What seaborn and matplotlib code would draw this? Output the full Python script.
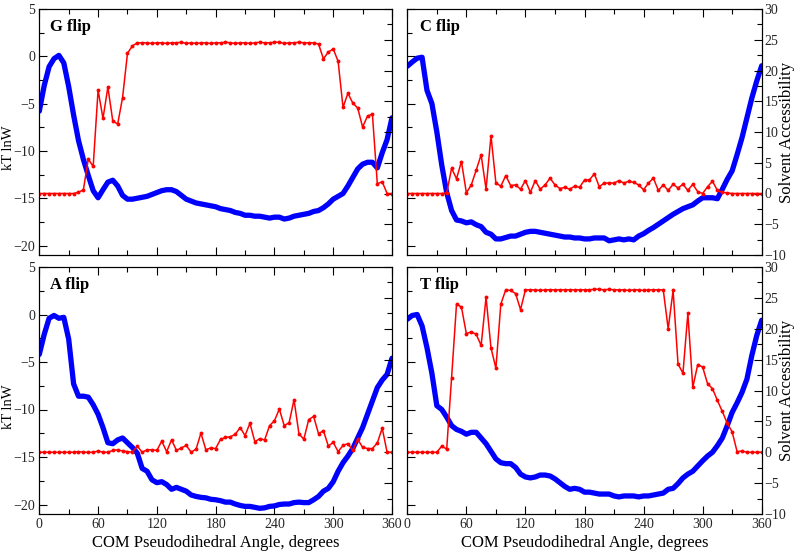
import matplotlib
matplotlib.use("Agg")
import matplotlib.pyplot as plt
import numpy as np
import pandas as pd
import seaborn as sns
from matplotlib.ticker import MultipleLocator

# ---------------- data ----------------
angles = list(range(0, 361, 5))

g_pmf = [-5.8, -3.1, -1.1, -0.25, 0.1, -0.7, -3.2, -6.2, -8.9, -10.9, -12.6, -14.2, -14.95,
         -14.1, -13.3, -13.1, -13.7, -14.7, -15.1, -15.1, -15.0, -14.9, -14.8, -14.6, -14.4,
         -14.2, -14.1, -14.1, -14.3, -14.7, -15.1, -15.3, -15.5, -15.6, -15.7, -15.8, -15.9,
         -16.1, -16.2, -16.3, -16.5, -16.6, -16.8, -16.8, -16.9, -16.9, -17.0, -17.1, -17.0,
         -17.0, -17.2, -17.1, -16.9, -16.8, -16.7, -16.6, -16.4, -16.3, -16.0, -15.6, -15.1,
         -14.8, -14.5, -13.7, -12.8, -11.9, -11.4, -11.2, -11.2, -11.8, -10.2, -8.8, -6.5]
g_sa = [0, 0, 0, 0, 0, 0, 0, 0, 0.2, 0.6, 5.6, 4.4, 16.8, 12.2, 17.3, 11.8, 11.3, 15.6, 22.8,
        24.0, 24.5, 24.5, 24.5, 24.4, 24.5, 24.5, 24.4, 24.5, 24.5, 24.6, 24.4, 24.5, 24.4,
        24.5, 24.5, 24.4, 24.5, 24.5, 24.6, 24.5, 24.4, 24.5, 24.5, 24.4, 24.5, 24.6, 24.5,
        24.5, 24.6, 24.6, 24.4, 24.5, 24.5, 24.6, 24.5, 24.5, 24.5, 24.3, 21.9, 23.0, 23.5,
        21.5, 14.0, 16.3, 14.7, 13.9, 10.8, 12.6, 12.9, 1.6, 1.9, 0, 0]

c_pmf = [-1.05, -0.6, -0.2, -0.1, -3.6, -5.0, -8.0, -11.5, -14.4, -16.3, -17.3, -17.4, -17.6,
         -17.5, -17.8, -18.0, -18.6, -18.8, -19.3, -19.3, -19.15, -19.0, -19.0, -18.8, -18.6,
         -18.5, -18.5, -18.6, -18.7, -18.8, -18.9, -19.0, -19.1, -19.1, -19.2, -19.2, -19.3,
         -19.3, -19.2, -19.2, -19.2, -19.5, -19.4, -19.3, -19.4, -19.3, -19.4, -19.0, -18.75,
         -18.4, -18.1, -17.75, -17.4, -17.05, -16.7, -16.4, -16.1, -15.9, -15.7, -15.3, -14.95,
         -14.95, -14.95, -15.05, -14.05, -13.0, -12.1, -10.4, -8.6, -6.5, -4.4, -2.6, -1.0]
c_sa = [0, 0, 0, 0, 0, 0, 0, 0, 0.1, 4.1, 2.4, 5.2, 0.1, 1.4, 3.8, 6.3, 0.7, 9.4, 1.7, 1.2,
        2.9, 1.3, 1.4, 0.7, 2.1, 0.2, 2.1, 0.7, 1.4, 2.5, 1.4, 0.8, 1.0, 0.7, 1.2, 1.0, 2.2,
        2.2, 3.2, 1.1, 1.7, 1.7, 1.7, 2.1, 1.7, 2.0, 1.8, 1.4, 0.6, 1.7, 2.5, 0.5, 1.4, 0.5,
        1.5, 0.9, 1.5, 0.5, 1.5, 0.3, 0.0, 1.1, 2.0, 0.5, 0.2, 0.1, 0, 0, 0, 0, 0, 0, 0]

a_pmf = [-4.2, -2.1, -0.4, -0.1, -0.4, -0.3, -2.6, -7.3, -8.6, -8.6, -8.7, -9.5, -10.5,
         -11.9, -13.5, -13.6, -13.2, -13.0, -13.5, -14.0, -14.6, -16.2, -16.5, -17.4, -17.7,
         -17.6, -17.9, -18.4, -18.2, -18.4, -18.6, -19.0, -19.15, -19.25, -19.3, -19.45, -19.5,
         -19.6, -19.75, -19.75, -19.95, -20.1, -20.2, -20.2, -20.3, -20.4, -20.35, -20.2,
         -20.15, -20.0, -19.95, -19.95, -19.8, -19.75, -19.8, -19.8, -19.5, -19.15, -18.6,
         -18.3, -17.6, -16.5, -15.6, -14.9, -14.1, -13.0, -11.9, -10.5, -9.1, -7.7, -6.9,
         -6.3, -4.6]
a_sa = [0, 0, 0, 0, 0, 0, 0, 0, 0.1, 0, 0, 0, 0.2, 0, 0, 0.3, 0.4, 0.2, 0.1, 0, 1.0, 0,
        0.4, 0.4, 0.3, 1.8, 0.1, 2.0, 0.3, 0.7, 1.1, 0, 0.5, 3.1, 0.4, 0.7, 0.6, 2.1, 2.4,
        2.5, 2.9, 4.0, 2.7, 4.7, 1.7, 2.2, 2.0, 4.3, 5.1, 7.0, 4.3, 4.8, 8.5, 3.0, 2.1, 5.3,
        5.8, 3.0, 3.5, 1.0, 1.6, 0.1, 1.1, 1.4, 0.3, 2.1, 0.8, 0.6, 0.6, 1.5, 3.9, 0, 0]

t_pmf = [-0.5, -0.1, 0.0, -1.2, -3.5, -6.2, -9.6, -10.0, -10.8, -11.7, -12.1, -12.3, -12.6,
         -12.4, -12.4, -13.0, -13.6, -14.4, -15.2, -15.6, -15.7, -15.7, -16.1, -16.8, -17.1,
         -17.2, -17.1, -16.9, -16.9, -17.0, -17.3, -17.7, -18.1, -18.4, -18.3, -18.4, -18.7,
         -18.7, -18.8, -18.9, -18.9, -18.9, -19.1, -19.2, -19.1, -19.1, -19.1, -19.2, -19.1,
         -19.1, -19.0, -18.9, -18.8, -18.4, -18.3, -17.8, -17.2, -16.8, -16.5, -15.95, -15.4,
         -14.9, -14.5, -13.8, -13.0, -11.7, -10.3, -9.3, -8.2, -6.8, -4.3, -2.2, -0.6]
t_sa = [0, 0, 0, 0, 0, 0, 0, 1.0, 0.5, 12.1, 24.0, 23.5, 19.2, 19.5, 19.1, 17.3, 25.1, 16.9,
        13.6, 24.0, 26.3, 26.2, 25.7, 23.1, 26.3, 26.3, 26.3, 26.2, 26.3, 26.3, 26.3, 26.3,
        26.3, 26.3, 26.3, 26.3, 26.3, 26.3, 26.4, 26.4, 26.3, 26.4, 26.3, 26.3, 26.3, 26.2,
        26.3, 26.3, 26.2, 26.3, 26.3, 26.3, 26.3, 20.0, 26.2, 14.3, 12.8, 22.5, 10.5, 14.2,
        13.8, 11.1, 10.3, 8.4, 6.6, 4.7, 3.3, 0.1, 0.2, 0, 0, 0, 0]

panel_titles = ["G flip", "C flip", "A flip", "T flip"]
pmf_series = [g_pmf, c_pmf, a_pmf, t_pmf]
sa_series = [g_sa, c_sa, a_sa, t_sa]

ylabel_left = "kT lnW"
ylabel_right = "Solvent Accessibility"
xlabel = "COM Pseudodihedral Angle, degrees"

# ---------------- style ----------------
sns.set_theme(style="ticks")
plt.rcParams["font.family"] = ["Liberation Serif", "DejaVu Serif"]

W, H = 800, 554
fig = plt.figure(figsize=(W / 100, H / 100), dpi=100)

# axes rectangles in pixels: (left, top, right, bottom)
rects_px = [(39.3, 9, 392, 255), (407.3, 9, 761.7, 255),
            (39.3, 267, 392, 514), (407.3, 267, 761.7, 514)]

BLUE = "#0000ff"
RED = "#ff0000"

for i, (title, pmf, sa) in enumerate(zip(panel_titles, pmf_series, sa_series)):
    l, t, r, b = rects_px[i]
    ax = fig.add_axes([l / W, 1 - b / H, (r - l) / W, (b - t) / H])
    ax2 = ax.twinx()
    df = pd.DataFrame({"angle": angles, "pmf": pmf, "sa": sa})

    sns.lineplot(data=df, x="angle", y="pmf", ax=ax, color=BLUE, linewidth=3.8,
                 solid_joinstyle="round", solid_capstyle="round", legend=False)
    sns.lineplot(data=df, x="angle", y="sa", ax=ax2, color=RED, linewidth=1.1,
                 marker="o", markersize=2.8, markeredgewidth=0, legend=False)

    ax.set_xlim(0, 360)
    ax.set_ylim(-21, 5)
    ax2.set_ylim(-10, 30)

    ax.xaxis.set_major_locator(MultipleLocator(60))
    ax.xaxis.set_minor_locator(MultipleLocator(30))
    ax.yaxis.set_major_locator(MultipleLocator(5))
    ax.yaxis.set_minor_locator(MultipleLocator(2.5))
    ax2.yaxis.set_major_locator(MultipleLocator(5))
    ax2.yaxis.set_minor_locator(MultipleLocator(2.5))

    left_col = i % 2 == 0
    bottom_row = i >= 2

    ax.tick_params(axis="x", which="both", direction="in", top=True, bottom=True,
                   labelbottom=bottom_row, labelsize=10, pad=3, color="black")
    ax.tick_params(axis="y", which="both", direction="in", left=True, right=False,
                   labelleft=left_col, labelsize=10, pad=3, color="black")
    ax2.tick_params(axis="y", which="both", direction="in", right=True,
                    labelright=not left_col, labelsize=10, pad=2, color="black")
    for a in (ax, ax2):
        a.tick_params(which="major", length=6, width=0.8)
        a.tick_params(which="minor", length=3.5, width=0.8)
        for sp in a.spines.values():
            sp.set_color("black")
            sp.set_linewidth(0.8)

    ax.set_xlabel("")
    ax.set_ylabel("")
    ax2.set_ylabel("")

    if left_col:
        ax.set_ylabel(ylabel_left, fontsize=10.5, color="black")
        ax.yaxis.set_label_coords(-0.068, 0.435)
    else:
        ax2.set_ylabel(ylabel_right, fontsize=12, color="black", rotation=90)
        ax2.yaxis.set_label_coords(1.05, 0.5)
    if bottom_row:
        ax.set_xlabel(xlabel, fontsize=12, color="black")
        ax.xaxis.set_label_coords(0.5, -0.083)

    tx = 0.030 if left_col else 0.036
    ax.text(tx, 0.91, title, transform=ax.transAxes, fontsize=12, fontweight="bold",
            ha="left", va="baseline", color="black")

fig.savefig("out.png", dpi=100)
